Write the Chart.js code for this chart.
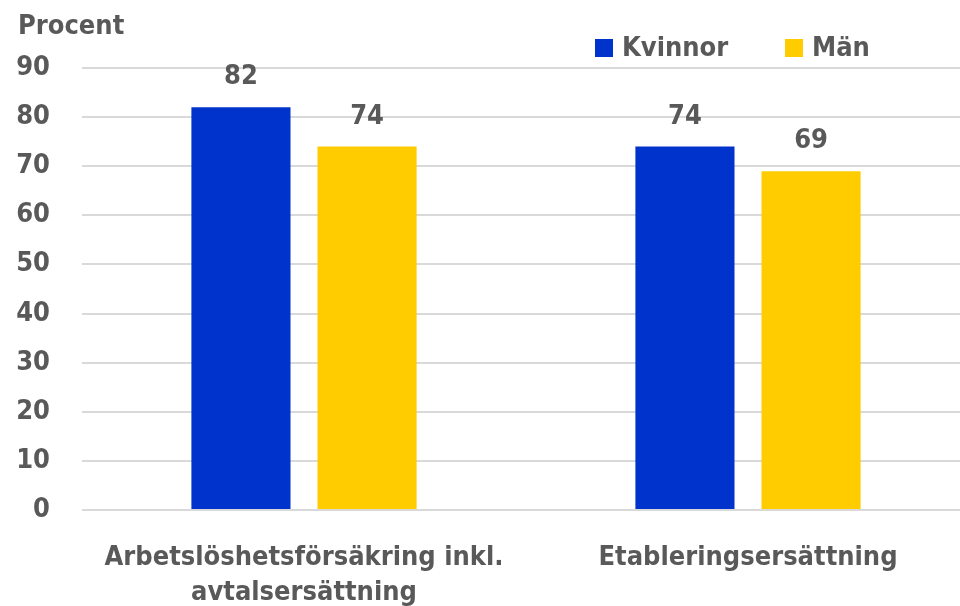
<html>
<head>
<meta charset="utf-8">
<script src="https://cdn.jsdelivr.net/npm/chart.js@4.4.1/dist/chart.umd.min.js"></script>
<style>
  html, body { margin: 0; padding: 0; background: #fff; overflow: hidden; }
  .wrap { width: 970px; height: 606px; }
</style>
</head>
<body>
<div class="wrap"><canvas id="canvas" width="970" height="606"></canvas></div>
<script>
var categories = [['Arbetslöshetsförsäkring inkl.', 'avtalsersättning'], 'Etableringsersättning'];
var seriesNames = ['Kvinnor', 'Män'];
var kvinnor = [82, 74];
var man = [74, 69];
var yTicks = [0, 10, 20, 30, 40, 50, 60, 70, 80, 90];

var FONT = "'Liberation Sans Narrow', 'DejaVu Sans Condensed', sans-serif";
var GREY = '#595959';
var colors = ['#0033cc', '#ffcc00'];

// values above the bars + legend + axis title
var extras = {
    id: 'extras',
    afterDatasetsDraw: function(chart) {
        var ctx = chart.ctx;
        ctx.save();
        ctx.font = 'bold 27px ' + FONT;
        ctx.fillStyle = GREY;
        ctx.textAlign = 'center';
        ctx.textBaseline = 'middle';
        chart.data.datasets.forEach(function(ds, i) {
            chart.getDatasetMeta(i).data.forEach(function(bar, j) {
                ctx.fillText(ds.data[j], bar.x, bar.y - 30);
            });
        });

        // axis title
        ctx.textAlign = 'left';
        ctx.fillText('Procent', 18, 27);

        // legend
        var lx = [595, 785];
        chart.data.datasets.forEach(function(ds, i) {
            ctx.fillStyle = ds.backgroundColor;
            ctx.fillRect(lx[i], 39, 18, 18);
            ctx.fillStyle = GREY;
            ctx.fillText(ds.label, lx[i] + 27, 49);
        });
        ctx.restore();
    }
};

new Chart(document.getElementById('canvas'), {
    type: 'bar',
    data: {
        labels: categories,
        datasets: [
            { label: seriesNames[0], data: kvinnor, backgroundColor: colors[0] },
            { label: seriesNames[1], data: man, backgroundColor: colors[1] }
        ]
    },
    options: {
        responsive: false,
        animation: false,
        devicePixelRatio: 1,
        categoryPercentage: 0.568,
        barPercentage: 0.786,
        layout: { padding: { top: 68, right: 0, left: 0, bottom: 0 } },
        plugins: { legend: { display: false }, tooltip: { enabled: false } },
        scales: {
            x: {
                grid: { display: false },
                border: { display: false },
                ticks: {
                    color: GREY,
                    font: { family: FONT, size: 27, weight: 'bold', lineHeight: 1.3 },
                    padding: 22,
                    maxRotation: 0,
                    autoSkip: false
                },
                afterFit: function(scale) { scale.height = 96; }
            },
            y: {
                min: 0,
                max: 90,
                afterBuildTicks: function(scale) {
                    scale.ticks = yTicks.map(function(v) { return { value: v }; });
                },
                grid: { color: '#d9d9d9', lineWidth: 2, drawTicks: false },
                border: { display: false },
                ticks: {
                    color: GREY,
                    font: { family: FONT, size: 27, weight: 'bold' },
                    padding: 32
                },
                afterFit: function(scale) { scale.width = 82; }
            }
        }
    },
    plugins: [extras]
});
</script>
</body>
</html>
